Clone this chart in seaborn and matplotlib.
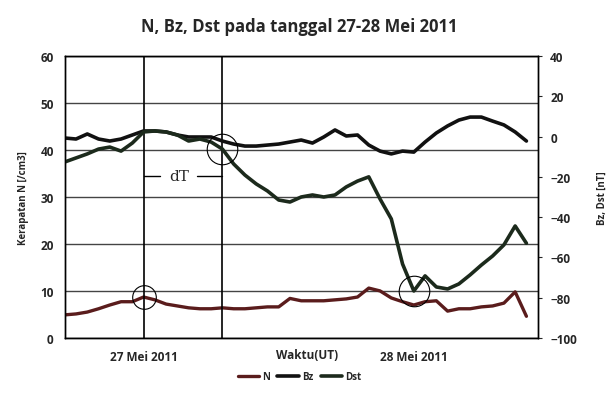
import numpy as np
import pandas as pd
import seaborn as sns
import matplotlib.pyplot as plt
from matplotlib.ticker import MultipleLocator

# jam sejak awal data (UT)
jam = list(range(42))

n_vals = [4.9, 5.1, 5.5, 6.2, 7.0, 7.7, 7.7, 8.7, 8.1, 7.2,
          6.8, 6.4, 6.2, 6.2, 6.4, 6.2, 6.2, 6.4, 6.6, 6.6,
          8.4, 7.9, 7.9, 7.9, 8.1, 8.3, 8.7, 10.6, 10.0, 8.5,
          7.7, 7.0, 7.7, 7.9, 5.7, 6.2, 6.2, 6.6, 6.8, 7.4,
          9.8, 4.6]

bz_vals = [-0.7, -1.2, 1.3, -1.2, -2.2, -1.2, 0.8, 2.8, 2.8, 2.3,
           0.8, -0.2, -0.2, -0.2, -2.2, -3.7, -4.7, -4.7, -4.2, -3.7,
           -2.7, -1.7, -3.2, -0.2, 3.3, 0.3, 0.8, -4.2, -7.2, -8.6,
           -7.2, -7.7, -2.7, 1.8, 5.3, 8.2, 9.7, 9.7, 7.7, 5.8,
           2.3, -2.2]

dst_vals = [-12.6, -10.6, -8.6, -6.2, -5.2, -7.2, -3.2, 2.3, 2.8, 2.3,
            0.8, -2.2, -1.2, -2.7, -6.2, -13.6, -19.1, -23.5, -27.0, -31.5,
            -32.5, -30.0, -29.0, -30.0, -29.0, -25.0, -22.1, -20.0, -31.0, -40.9,
            -63.3, -76.7, -69.2, -74.7, -75.7, -73.2, -68.7, -63.8, -59.3, -53.8,
            -44.4, -53.0]

tick_pos = [7, 31]
tick_labels = ["27 Mei 2011", "28 Mei 2011"]
garis_dt = [7, 14]          # awal dan akhir dT
titik_lingkar = [7, 14, 31]  # N puncak, Dst mulai turun, Dst minimum

df = pd.DataFrame({"jam": jam, "N": n_vals, "Bz": bz_vals, "Dst": dst_vals})

sns.set_style("white")
plt.rcParams["font.family"] = ["Open Sans", "DejaVu Sans"]
plt.rcParams["font.weight"] = "bold"

fig = plt.figure(figsize=(6.11, 4.02), dpi=100)
ax = fig.add_axes([0.106, 0.157, 0.774, 0.701])
ax2 = ax.twinx()

sns.lineplot(data=df, x="jam", y="N", ax=ax, color="#5a1c1c", linewidth=2.4, label="N", legend=False)
sns.lineplot(data=df, x="jam", y="Bz", ax=ax2, color="#111111", linewidth=2.6, label="Bz", legend=False)
sns.lineplot(data=df, x="jam", y="Dst", ax=ax2, color="#1c2a1c", linewidth=2.6, label="Dst", legend=False)

ax.set_xlim(0, 42)
ax.set_ylim(0, 60)
ax2.set_ylim(-100, 40)
ax.set_yticks(range(0, 61, 10))
ax2.set_yticks(range(-100, 41, 20))
ax.yaxis.grid(True, color="#444444", linewidth=1.0)
ax.set_axisbelow(True)

for sp in list(ax.spines.values()) + list(ax2.spines.values()):
    sp.set_color("black")
    sp.set_linewidth(1.0)

ax.set_xticks(tick_pos)
ax.set_xticklabels(tick_labels, fontsize=8.5, fontweight="bold")
ax.xaxis.set_minor_locator(MultipleLocator(0.55))
ax.tick_params(axis="x", which="both", direction="inout", length=7, width=0.9, pad=5)
ax.tick_params(axis="y", length=0, labelsize=8.5, pad=8)
ax2.tick_params(axis="y", length=3, direction="out", labelsize=8.5, pad=6)
ax.set_xlabel("")
ax.text(21.5, -0.035, "Waktu(UT)", transform=ax.get_xaxis_transform(),
        ha="center", va="top", fontsize=8.5, fontweight="bold")

ax.set_ylabel("Kerapatan N [/cm3]", fontsize=7, fontweight="bold", labelpad=8)
ax2.set_ylabel("Bz, Dst [nT]", fontsize=7, fontweight="bold", labelpad=14)

for g in garis_dt:
    ax.axvline(g, color="black", linewidth=1.2)

# penanda dT
ax.plot([garis_dt[0], garis_dt[0] + 1.5], [34.5, 34.5], color="black", linewidth=1)
ax.plot([garis_dt[1] - 2.3, garis_dt[1]], [34.5, 34.5], color="black", linewidth=1)
ax.text((garis_dt[0] + garis_dt[1]) / 2 - 0.3, 34.5, "dT", ha="center", va="center",
        fontsize=11, fontweight="normal", family="DejaVu Serif")

# lingkaran penanda
ax.plot(titik_lingkar[0], n_vals[titik_lingkar[0]], marker="o", markersize=17,
        markerfacecolor="none", markeredgecolor="black", markeredgewidth=0.8)
ax2.plot(titik_lingkar[1], dst_vals[titik_lingkar[1]], marker="o", markersize=22,
         markerfacecolor="none", markeredgecolor="black", markeredgewidth=0.8)
ax2.plot(titik_lingkar[2], dst_vals[titik_lingkar[2]], marker="o", markersize=22,
         markerfacecolor="none", markeredgecolor="black", markeredgewidth=0.8)

fig.suptitle("N, Bz, Dst pada tanggal 27-28 Mei 2011", x=0.49, y=0.955,
             fontsize=12, fontweight="bold")

h1, l1 = ax.get_legend_handles_labels()
h2, l2 = ax2.get_legend_handles_labels()
fig.legend(h1 + h2, l1 + l2, loc="center", bbox_to_anchor=(0.49, 0.06), ncol=3,
           frameon=False, fontsize=7, handlelength=2.2, handletextpad=0.3, columnspacing=0.8)

fig.savefig("out.png", dpi=100)
